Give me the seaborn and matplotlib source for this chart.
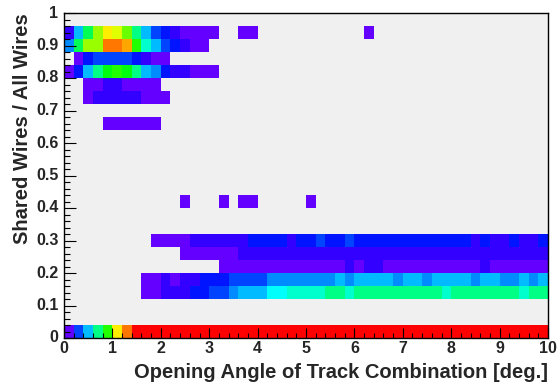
import colorsys
import numpy as np
import pandas as pd
import seaborn as sns
import matplotlib
matplotlib.use("Agg")
import matplotlib.pyplot as plt
from matplotlib.colors import ListedColormap

# Histogram binning
x_bin_width = 0.2   # deg.
y_bin_width = 0.04  # shared fraction
n_x_bins = 50
n_y_bins = 25

# Bin contents as palette levels (1 = lowest, 20 = saturated), 0 = empty.
# Each list starts at the first x bin (0 deg.), missing tail = empty.
row_000 = [1, 4, 6, 9, 12, 16, 18, 20, 20, 20, 20, 20, 20, 20, 20, 20, 20, 20, 20, 20,
           20, 20, 20, 20, 20, 20, 20, 20, 20, 20, 20, 20, 20, 20, 20, 20, 20, 20, 20, 20,
           20, 20, 20, 20, 20, 20, 20, 20, 20, 20]
row_012 = [0, 0, 0, 0, 0, 0, 0, 0, 1, 1, 2, 2, 2, 3, 3, 4, 4, 5, 6, 6,
           6, 7, 7, 8, 8, 8, 8, 9, 9, 8, 9, 9, 9, 9, 9, 9, 9, 9, 9, 8,
           9, 9, 9, 9, 9, 9, 9, 8, 9, 9]
row_016 = [0, 0, 0, 0, 0, 0, 0, 0, 1, 1, 2, 1, 2, 2, 3, 3, 3, 4, 4, 4,
           4, 5, 5, 5, 5, 5, 5, 5, 6, 5, 6, 6, 6, 6, 5, 6, 6, 5, 6, 6,
           6, 6, 5, 6, 6, 5, 5, 6, 5, 6]
row_020 = [0, 0, 0, 0, 0, 0, 0, 0, 0, 0, 0, 0, 0, 0, 0, 0, 1, 1, 1, 1,
           1, 1, 1, 1, 1, 1, 1, 1, 1, 2, 1, 2, 2, 1, 1, 1, 1, 1, 1, 1,
           1, 1, 1, 2, 1, 1, 1, 1, 1, 1]
row_024 = [0, 0, 0, 0, 0, 0, 0, 0, 0, 0, 0, 0, 1, 1, 1, 1, 1, 1, 2, 2,
           2, 2, 2, 2, 2, 2, 2, 2, 2, 2, 2, 2, 2, 2, 2, 2, 2, 2, 2, 2,
           2, 2, 2, 2, 2, 2, 2, 2, 2, 2]
row_028 = [0, 0, 0, 0, 0, 0, 0, 0, 0, 1, 1, 1, 1, 2, 2, 2, 2, 2, 2, 3,
           3, 3, 3, 2, 3, 3, 4, 3, 3, 4, 3, 3, 3, 3, 3, 3, 3, 3, 3, 3,
           3, 3, 2, 3, 2, 2, 3, 2, 2, 3]
row_040 = [0, 0, 0, 0, 0, 0, 0, 0, 0, 0, 0, 0, 1, 0, 0, 0, 1, 0, 1, 1,
           0, 0, 0, 0, 0, 1]
row_064 = [0, 0, 0, 0, 1, 1, 1, 1, 1, 1]
row_072 = [0, 0, 1, 2, 2, 2, 2, 2, 1, 1, 1]
row_076 = [0, 0, 1, 1, 2, 2, 1, 1, 1, 1]
row_080 = [1, 3, 6, 9, 11, 12, 11, 9, 6, 5, 3, 2, 2, 1, 1, 1]
row_084 = [0, 1, 3, 4, 4, 4, 4, 3, 2, 1, 1]
row_088 = [5, 10, 14, 14, 18, 18, 17, 12, 8, 6, 4, 3, 2, 1, 1]
row_092 = [2, 6, 10, 14, 16, 15, 13, 9, 6, 4, 3, 2, 1, 1, 1, 1, 0, 0, 1, 1,
           0, 0, 0, 0, 0, 0, 0, 0, 0, 0, 0, 1]

rows = {0: row_000, 3: row_012, 4: row_016, 5: row_020, 6: row_024, 7: row_028,
        10: row_040, 16: row_064, 18: row_072, 19: row_076, 20: row_080,
        21: row_084, 22: row_088, 23: row_092}

x_ticks = [0, 1, 2, 3, 4, 5, 6, 7, 8, 9, 10]
y_ticks = [0, 0.1, 0.2, 0.3, 0.4, 0.5, 0.6, 0.7, 0.8, 0.9, 1]
y_tick_labels = ["0", "0.1", "0.2", "0.3", "0.4", "0.5", "0.6", "0.7", "0.8", "0.9", "1"]


def root_palette(n_levels=20, n_colors=50):
    """ROOT 'pretty' palette (SetPalette(1)) sampled at the contour levels."""
    colors = []
    for level in range(n_levels):
        idx = int((level + 0.99) * n_colors / n_levels)
        hue = 280.0 - (idx + 1) * (280.0 / n_colors)
        colors.append(colorsys.hls_to_rgb(hue / 360.0, 0.5, 1.0))
    return ListedColormap(colors)


def build_table():
    counts = np.zeros((n_y_bins, n_x_bins))
    for k, row in rows.items():
        counts[k, :len(row)] = row
    x_lo = np.round(np.arange(n_x_bins) * x_bin_width, 2)
    y_lo = np.round(np.arange(n_y_bins) * y_bin_width, 2)
    return pd.DataFrame(counts, index=y_lo, columns=x_lo)


def plot():
    sns.set_theme(style="ticks")
    plt.rcParams["font.family"] = ["Liberation Sans", "DejaVu Sans"]
    plt.rcParams["font.weight"] = "bold"
    plt.rcParams["axes.axisbelow"] = False
    plt.rcParams["xtick.bottom"] = True
    plt.rcParams["ytick.left"] = True

    table = build_table()

    fig = plt.figure(figsize=(5.59, 3.85), dpi=100)
    ax = fig.add_axes([64 / 559, 1 - 338 / 385, 484 / 559, 325 / 385])
    ax.set_facecolor("#f0f0f0")

    sns.heatmap(table, mask=(table == 0), cmap=root_palette(), vmin=0.5, vmax=20.5,
                cbar=False, ax=ax)
    ax.invert_yaxis()
    ax.set_axisbelow(False)

    # axes in data units -> heatmap cell units
    ax.set_xticks([v / x_bin_width for v in x_ticks], labels=[str(v) for v in x_ticks])
    ax.set_xticks(np.arange(0, n_x_bins + 1), minor=True)
    ax.set_yticks([v / y_bin_width for v in y_ticks], labels=y_tick_labels)
    ax.set_yticks(np.arange(0, n_y_bins + 0.5, 0.5), minor=True)

    ax.tick_params(axis="x", which="major", direction="in", length=7.2, width=0.8,
                   pad=2, labelsize=11.5, labelrotation=0, bottom=True, top=False,
                   color="black")
    ax.tick_params(axis="x", which="minor", direction="in", length=3.6, width=0.8,
                   bottom=True, top=False, color="black")
    ax.tick_params(axis="y", which="major", direction="in", length=8.6, width=0.8,
                   pad=4, labelsize=11.5, labelrotation=0, left=True, right=False,
                   color="black")
    ax.tick_params(axis="y", which="minor", direction="in", length=4.3, width=0.8,
                   left=True, right=False, color="black")
    for lab in ax.get_xticklabels() + ax.get_yticklabels():
        lab.set_fontweight("bold")

    for spine in ax.spines.values():
        spine.set_visible(True)
        spine.set_color("black")
        spine.set_linewidth(1.0)

    ax.set_xlabel("Opening Angle of Track Combination [deg.]", loc="right",
                  fontsize=14.5, fontweight="bold", labelpad=5)
    ax.set_ylabel("Shared Wires / All Wires", loc="top",
                  fontsize=14.5, fontweight="bold", labelpad=3)

    plt.savefig("out.png", dpi=100)
    plt.close()


if __name__ == "__main__":
    plot()
